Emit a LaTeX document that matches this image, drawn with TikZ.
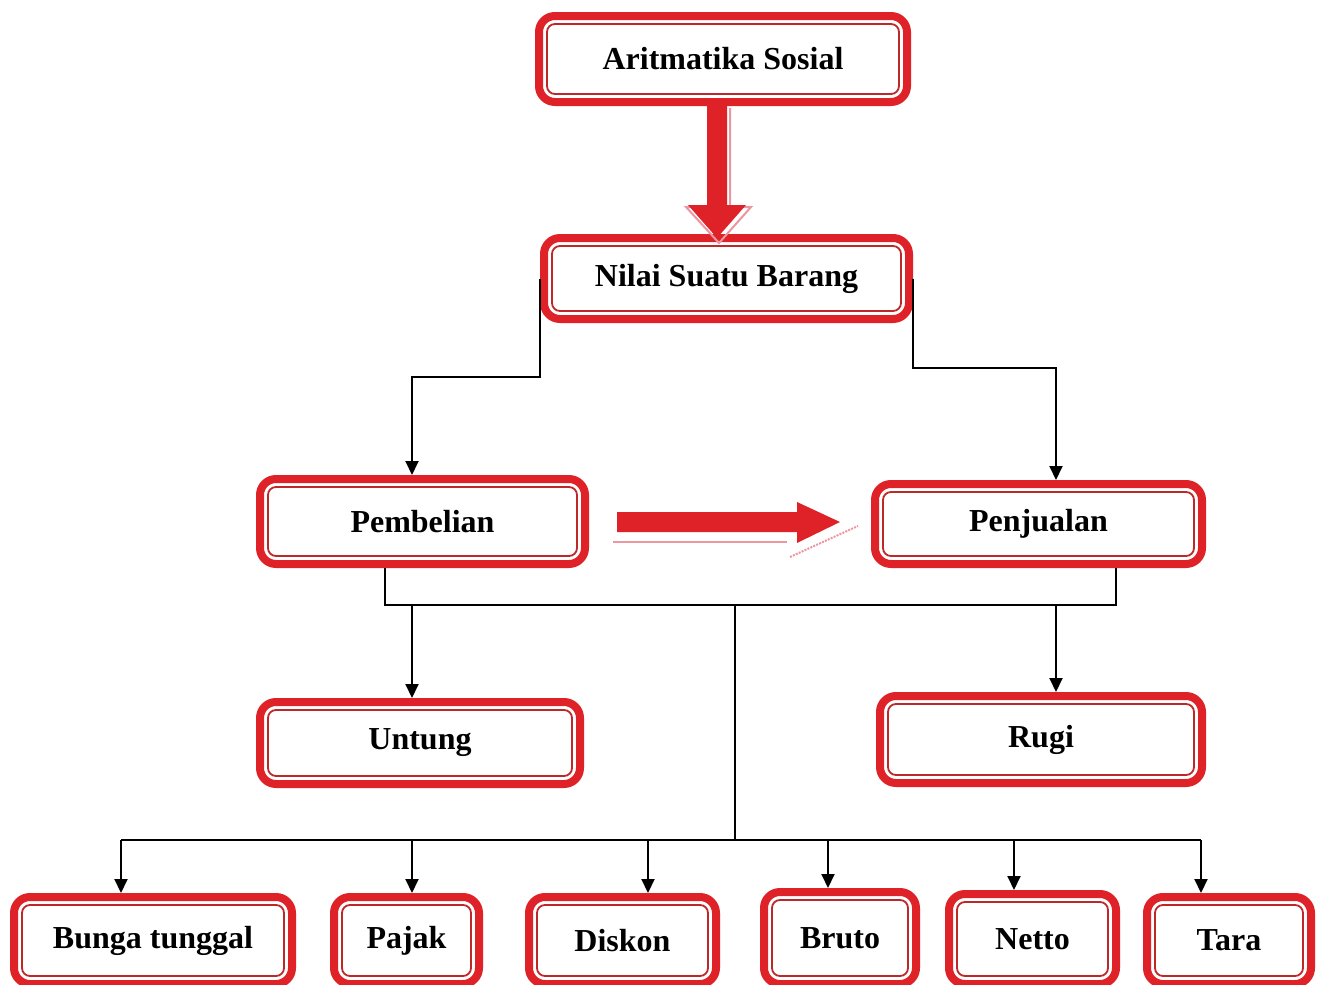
\documentclass[tikz,border=0pt]{standalone}
\usepackage{fontspec}
\setmainfont{Liberation Serif}
\usetikzlibrary{arrows.meta,calc}
\definecolor{boxred}{RGB}{222,34,40}
\definecolor{innerred}{RGB}{190,40,40}
\definecolor{shadowpink}{RGB}{235,150,160}
\begin{document}
\begin{tikzpicture}[x=0.5pt,y=-0.5pt,
  box/.style={draw=boxred, line width=4pt, rounded corners=8pt, fill=white,
    inner sep=0pt, font=\bfseries\fontsize{16pt}{18pt}\selectfont, text=black},
  innerline/.style={draw=innerred, line width=0.9pt, rounded corners=4pt},
  conn/.style={draw=black, line width=1pt},
  arr/.style={conn, -{Triangle[width=6.5pt,length=7pt]}},
  bigarrow/.style={fill=boxred},
  arrowshadow/.style={draw=shadowpink, line width=1pt}]
\useasboundingbox (0,0) rectangle (1319,985);
\clip (0,0) rectangle (1319,985);

% boxes
\node[box, minimum width=184pt, minimum height=43pt] (a) at (723,59) {Aritmatika Sosial};
\node[box, minimum width=182.5pt, minimum height=40.5pt] (n) at (726.5,278.5) {Nilai Suatu Barang};
\node[box, minimum width=162.5pt, minimum height=42.5pt] (p) at (422.5,521.5) {Pembelian};
\node[box, minimum width=163.5pt, minimum height=40pt] (q) at (1038.5,524) {Penjualan};
\node[box, minimum width=160pt, minimum height=41pt] (u) at (420,743) {Untung};
\node[box, minimum width=161pt, minimum height=43.5pt] (r) at (1041,739.5) {Rugi};
\node[box, minimum width=139pt, minimum height=43.5pt] (b1) at (153,940.5) {Bunga tunggal};
\node[box, minimum width=72.5pt, minimum height=43.5pt] (b2) at (406.5,940.5) {Pajak};
\node[box, minimum width=93.5pt, minimum height=43.5pt] (b3) at (622.5,940.5) {Diskon};
\node[box, minimum width=76pt, minimum height=46pt] (b4) at (840,938) {Bruto};
\node[box, minimum width=83.5pt, minimum height=45pt] (b5) at (1032.5,939) {Netto};
\node[box, minimum width=82pt, minimum height=43.5pt] (b6) at (1229,940.5) {Tara};

\foreach \nm in {a,n,p,q,u,r,b1,b2,b3,b4,b5,b6}{
  \draw[innerline] ([shift={(6pt,6pt)}]\nm.south west) rectangle ([shift={(-6pt,-6pt)}]\nm.north east);
}

% big red vertical arrow
\draw[arrowshadow] (730,108) -- (730,207) -- (751,207) -- (719,243) -- (686,207) -- (707,207);
\fill[bigarrow] (707,106) -- (727,106) -- (727,205) -- (746,205) -- (717,238) -- (688,205) -- (707,205) -- cycle;

% big red horizontal arrow
\draw[arrowshadow] (613,542) -- (787,542);
\draw[arrowshadow, dash pattern=on 1pt off 0.6pt] (790,557) -- (858,526);
\fill[bigarrow] (617,512) -- (797,512) -- (797,502) -- (840,522) -- (797,543) -- (797,532) -- (617,532) -- cycle;

% connectors
\draw[arr] (n.west) |- (412,377) -- (p.north -| 412,0);
\draw[arr] (n.east) |- (1056,368) -- (q.north -| 1056,0);

\coordinate (j0) at (385,605);
\coordinate (jm) at (735,605);
\coordinate (jb) at (735,840);
\draw[conn] (p.south -| j0) -- (j0) -| (q.south -| 1116,0);
\draw[arr] (412,605) -- (u.north -| 412,0);
\draw[arr] (1056,605) -- (r.north -| 1056,0);
\draw[conn] (jm) -- (jb);
\draw[conn] (121,840) -- (1201,840);
\draw[arr] (121,840) -- (b1.north -| 121,0);
\draw[arr] (412,840) -- (b2.north -| 412,0);
\draw[arr] (648,840) -- (b3.north -| 648,0);
\draw[arr] (828,840) -- (b4.north -| 828,0);
\draw[arr] (1014,840) -- (b5.north -| 1014,0);
\draw[arr] (1201,840) -- (b6.north -| 1201,0);
\end{tikzpicture}
\end{document}
